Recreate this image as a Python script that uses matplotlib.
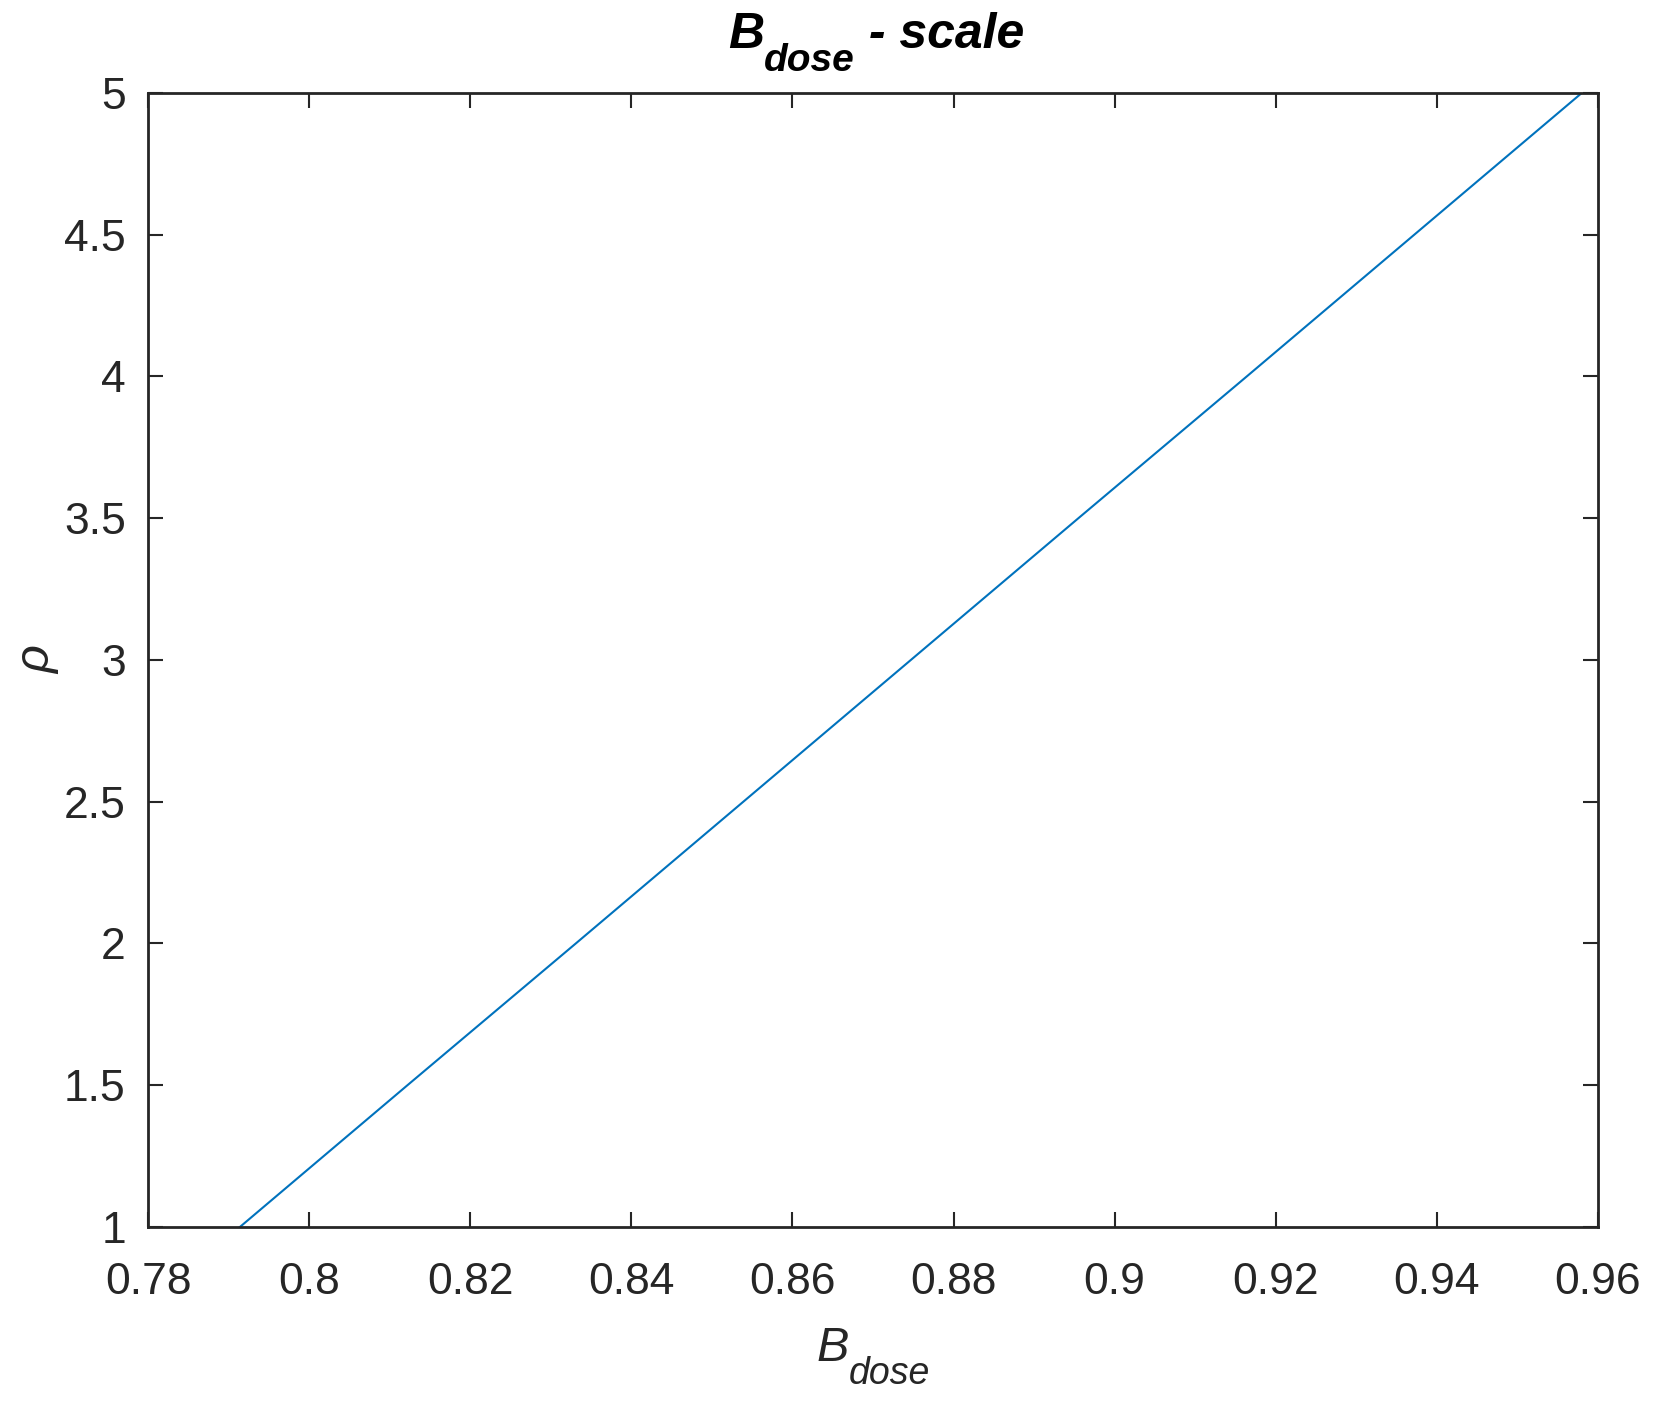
import matplotlib.pyplot as plt

plt.rcParams['font.family'] = ['Liberation Sans', 'DejaVu Sans']

# values
rho = [1, 1.5, 2, 2.5, 3, 3.5, 4, 4.5, 5]
b_dose = [0.7914, 0.8122, 0.8331, 0.8539, 0.8747, 0.8955, 0.9164, 0.9372, 0.9580]
x_ticks = [0.78, 0.80, 0.82, 0.84, 0.86, 0.88, 0.90, 0.92, 0.94, 0.96]
y_ticks = [1, 1.5, 2, 2.5, 3, 3.5, 4, 4.5, 5]

AX_COLOR = '#262626'

fig = plt.figure(figsize=(16.54, 14.06), dpi=100)
ax = fig.add_axes([0.0895, 0.1273, 0.8766, 0.8066])

ax.plot(b_dose, rho, color='#0072BD', linewidth=1.5)

ax.set_xlim(0.78, 0.96)
ax.set_ylim(1, 5)
ax.set_xticks(x_ticks)
ax.set_xticklabels([f"{v:g}" for v in x_ticks])
ax.set_yticks(y_ticks)
ax.set_yticklabels([f"{v:g}" for v in y_ticks])

ax.tick_params(direction='in', length=11, width=1.5, colors=AX_COLOR,
               labelsize=32, top=True, right=True)
ax.tick_params(axis='x', pad=25)
ax.tick_params(axis='y', pad=16)
for s in ax.spines.values():
    s.set_linewidth(2)
    s.set_color(AX_COLOR)

# title "B_dose - scale" with a low, large subscript like MATLAB's tex
t_b = ax.set_title("B", loc='left', x=0.400, y=1.040, pad=0, va='baseline',
                   fontsize=36, fontweight='bold', fontstyle='italic',
                   color='black')
t_sub = ax.annotate("dose", xy=(1, 1.019), xycoords=(t_b, ax.transAxes),
                    ha='left', va='baseline', fontsize=28, fontweight='bold',
                    fontstyle='italic', color='black')
ax.annotate(" - scale", xy=(1, 1.040), xycoords=(t_sub, ax.transAxes),
            ha='left', va='baseline', fontsize=36, fontweight='bold',
            fontstyle='italic', color='black')

# x label "B_dose"
ax.set_xlabel("B", fontsize=35, fontstyle='italic', color=AX_COLOR,
              ha='left', va='baseline')
ax.xaxis.set_label_coords(0.461, -0.118)
ax.annotate("dose", xy=(1, -0.138), xycoords=(ax.xaxis.label, ax.transAxes),
            ha='left', va='baseline', fontsize=27, fontstyle='italic',
            color=AX_COLOR)

ax.set_ylabel("ρ", fontsize=35, fontstyle='italic', color=AX_COLOR, labelpad=3)

plt.savefig("out.png", dpi=100)
